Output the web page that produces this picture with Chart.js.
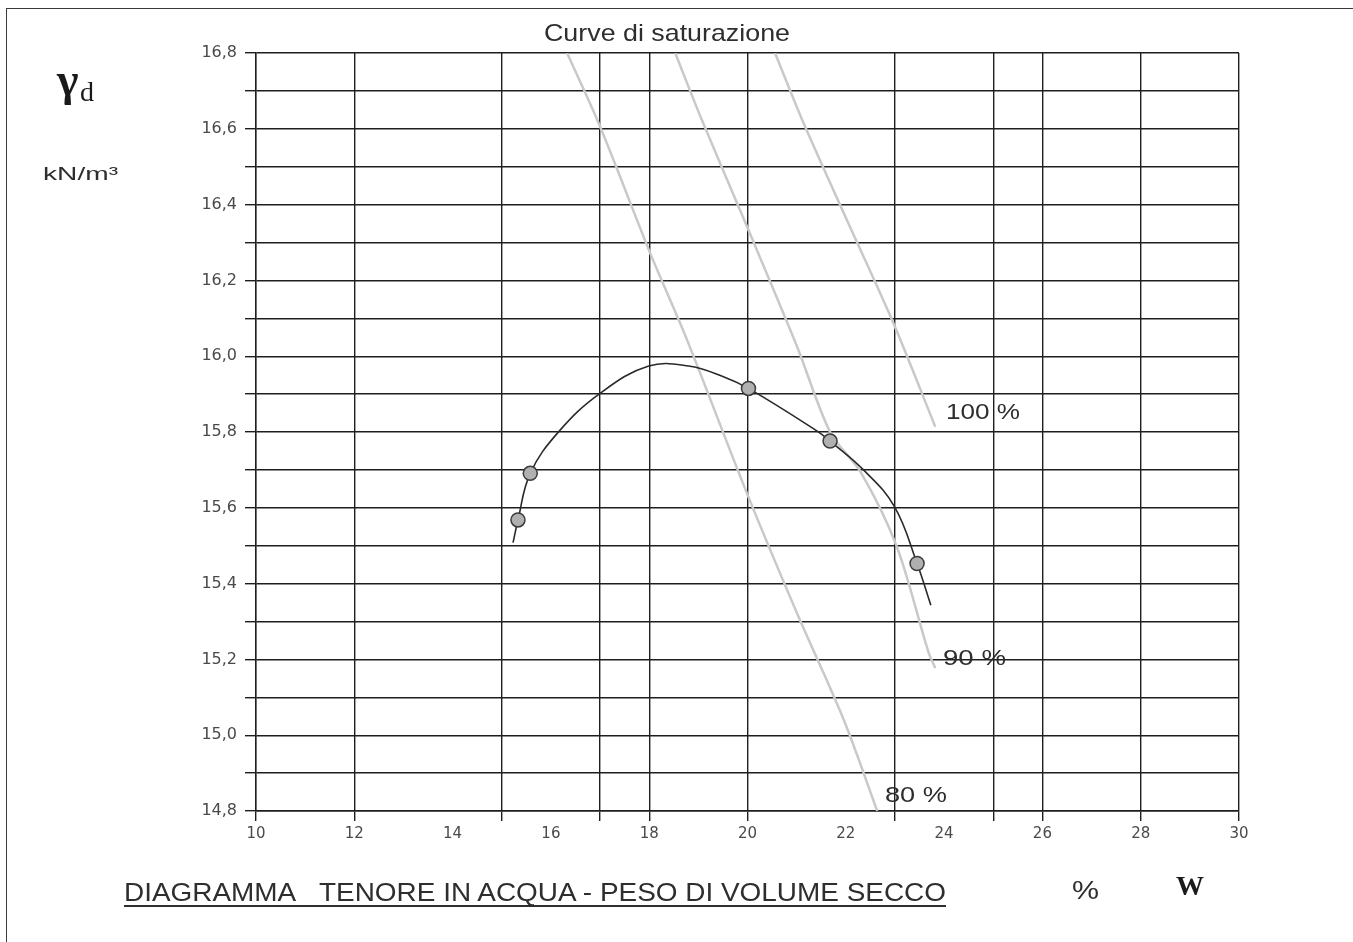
<!DOCTYPE html>
<html>
<head>
<meta charset="utf-8">
<script src="https://cdn.jsdelivr.net/npm/chart.js@4.4.1/dist/chart.umd.min.js"></script>
<style>
  html, body { margin: 0; padding: 0; background: #fff; }
  #pagina { position: relative; width: 1353px; height: 942px; overflow: hidden; }
  #cornice { position: absolute; left: 6px; top: 8px; width: 1400px; height: 1000px;
             border-left: 1.5px solid #3a3a3a; border-top: 1.5px solid #3a3a3a; }
  canvas { position: absolute; left: 0; top: 0; }
  .testo { position: absolute; white-space: nowrap; line-height: 1; color: #2e2e2e;
           font-family: "Liberation Sans", Arial, sans-serif; transform-origin: left center; }
  .serif { font-family: "Liberation Serif", "Times New Roman", serif; font-weight: bold; color: #1a1a1a; }
</style>
</head>
<body>
<div id="pagina">
  <div id="cornice"></div>
  <canvas id="grafico" width="1353" height="942"></canvas>

  <div class="testo" id="t-curve" style="left:544px; top:21px; font-size:24px;">Curve di saturazione</div>
  <div class="testo serif" id="t-gamma" style="left:57px; top:57px; font-size:46px;">γ</div>
  <div class="testo serif" id="t-d" style="left:80px; top:78px; font-size:28px; font-weight:normal;">d</div>
  <div class="testo" id="t-unita" style="left:43px; top:164px; font-size:19px;">kN/m³</div>

  <div class="testo" id="t-100" style="left:946px; top:401px; font-size:22px;">100 %</div>
  <div class="testo" id="t-90" style="left:943px; top:647px; font-size:22px;">90 %</div>
  <div class="testo" id="t-80" style="left:885px; top:784px; font-size:22px;">80 %</div>

  <div class="testo" id="t-titolo" style="left:124px; top:880px; font-size:25px; text-decoration: underline; text-decoration-skip-ink: none; text-underline-offset: 4px; text-decoration-thickness: 2px;">DIAGRAMMA&nbsp;&nbsp; TENORE IN ACQUA - PESO DI VOLUME SECCO</div>
  <div class="testo" id="t-perc" style="left:1072px; top:877px; font-size:26px;">%</div>
  <div class="testo serif" id="t-w" style="left:1176px; top:872px; font-size:28px;">W</div>
</div>

<script>
// ======= DATI =======
// linee verticali della griglia (w %) come nel foglio originale
const xGridLines = [10, 12, 15, 17, 18, 20, 23, 25, 26, 28, 30];

// punti di prova (w %, gamma d kN/m3)
const provaW = [15.33, 15.58, 20.02, 21.68, 23.45];
const provaGamma = [15.568, 15.691, 15.915, 15.776, 15.453];

// curva di compattazione
const curvaW = [15.23, 15.33, 15.58, 16.16, 17.0, 17.99, 18.8, 19.51, 20.02, 21.41, 21.68, 22.36, 22.99, 23.45, 23.73];
const curvaGamma = [15.508, 15.568, 15.691, 15.801, 15.902, 15.974, 15.974, 15.946, 15.915, 15.803, 15.776, 15.70, 15.603, 15.453, 15.343];

// curve di saturazione
const sat100W = [20.56, 21.14, 22.02, 22.97, 23.82];
const sat100Gamma = [16.8, 16.615, 16.36, 16.087, 15.814];
const sat90W = [18.53, 19.04, 19.99, 21.01, 21.69, 22.30, 23.04, 23.68, 23.82];
const sat90Gamma = [16.8, 16.633, 16.342, 16.025, 15.797, 15.695, 15.497, 15.22, 15.177];
const sat80W = [16.33, 17.0, 18.02, 18.77, 19.99, 21.01, 21.96, 22.64];
const sat80Gamma = [16.8, 16.606, 16.272, 16.043, 15.638, 15.321, 15.04, 14.8];

const coppie = (xs, ys) => xs.map((x, i) => ({ x: x, y: ys[i] }));

// ======= STIRAMENTO TESTI (il foglio e' allargato in orizzontale) =======
function allarga(id, larghezza) {
  const el = document.getElementById(id);
  const w = el.getBoundingClientRect().width;
  el.style.transform = `scaleX(${larghezza / w})`;
}
allarga("t-curve", 246);
allarga("t-unita", 75);
allarga("t-100", 74);
allarga("t-90", 63);
allarga("t-80", 62);
allarga("t-titolo", 822);
allarga("t-perc", 27);

// ======= GRAFICO =======
const GRIGLIA = "#1e1e1e";
const SATURAZIONE = "#c9c9c9";

const lineaSat = (dati) => ({
  data: dati,
  showLine: true,
  borderColor: SATURAZIONE,
  borderWidth: 2.5,
  pointRadius: 0,
  tension: 0.3,
});

new Chart(document.getElementById("grafico"), {
  type: "scatter",
  data: {
    datasets: [
      {
        data: coppie(provaW, provaGamma),
        pointRadius: 7,
        pointBackgroundColor: "#b0b0b0",
        pointBorderColor: "#3c3c3c",
        pointBorderWidth: 1.5,
        showLine: false,
      },
      {
        data: coppie(curvaW, curvaGamma),
        showLine: true,
        borderColor: "#2a2a2a",
        borderWidth: 1.6,
        pointRadius: 0,
        tension: 0.4,
      },
      lineaSat(coppie(sat100W, sat100Gamma)),
      lineaSat(coppie(sat90W, sat90Gamma)),
      lineaSat(coppie(sat80W, sat80Gamma)),
    ],
  },
  options: {
    responsive: false,
    animation: false,
    devicePixelRatio: 1,
    layout: { padding: { top: 53, right: 114, left: 0, bottom: 0 } },
    plugins: { legend: { display: false }, tooltip: { enabled: false } },
    scales: {
      x: {
        type: "linear",
        min: 10,
        max: 30,
        afterFit: (scale) => { scale.height = 131; },
        ticks: {
          stepSize: 1,
          autoSkip: false,
          maxRotation: 0,
          padding: 4,
          color: "#4a4a4a",
          font: { family: "DejaVu Sans", size: 15 },
          callback: (v) => (Math.round(v) % 2 === 0 ? String(Math.round(v)) : ""),
        },
        grid: {
          color: (ctx) => (ctx.tick && xGridLines.includes(Math.round(ctx.tick.value)) ? GRIGLIA : "rgba(0,0,0,0)"),
          lineWidth: 1.4,
          tickLength: 10,
        },
        border: { color: GRIGLIA, width: 1.4 },
      },
      y: {
        type: "linear",
        min: 14.8,
        max: 16.8,
        afterFit: (scale) => { scale.width = 256; },
        ticks: {
          stepSize: 0.1,
          autoSkip: false,
          padding: 8,
          color: "#4a4a4a",
          font: { family: "DejaVu Sans", size: 16 },
          callback: (v) => (Math.round(v * 10) % 2 === 0 ? v.toFixed(1).replace(".", ",") : ""),
        },
        grid: { color: GRIGLIA, lineWidth: 1.4, tickLength: 11 },
        border: { color: GRIGLIA, width: 1.4 },
      },
    },
  },
});
</script>
</body>
</html>
